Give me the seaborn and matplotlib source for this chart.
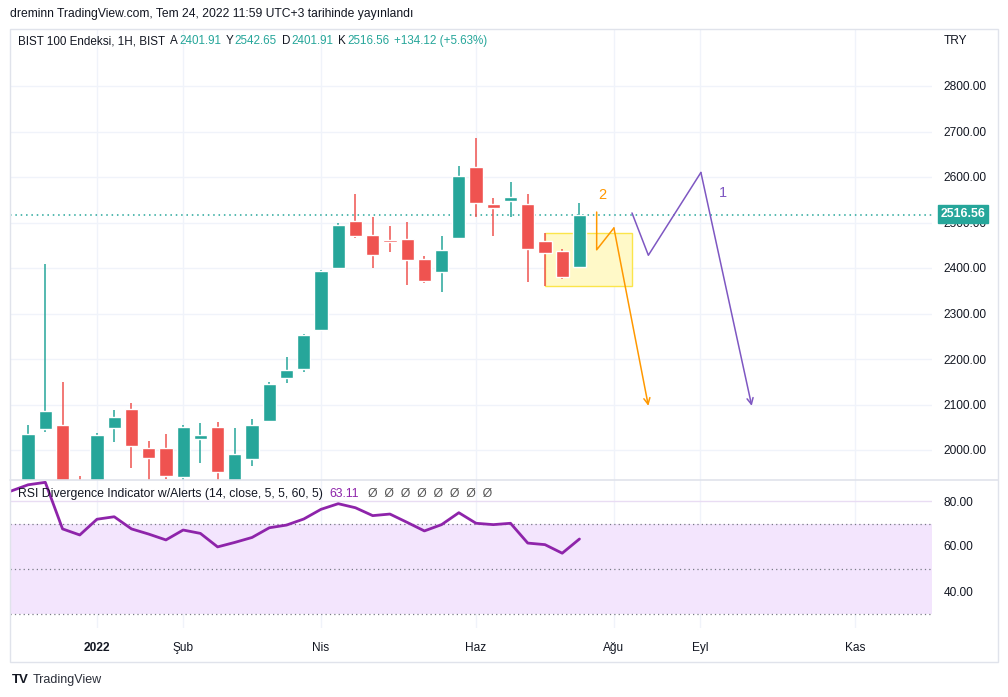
import numpy as np
import pandas as pd
import seaborn as sns
import matplotlib.pyplot as plt
from matplotlib.patches import Rectangle

sns.set_theme(style="white")
plt.rcParams['font.family'] = ['Liberation Sans', 'DejaVu Sans']

# weekly candles, week 0 = first week of 2022
weeks = list(range(-4, 29))
opens = [1890, 2046, 2055, 1925, 1915, 2048, 2090, 2004, 2004, 1941, 2024, 2050, 1920,
         1980, 2064, 2158, 2178, 2264, 2400, 2503, 2473, 2462, 2464, 2420, 2391, 2466,
         2622, 2541, 2547, 2541, 2459, 2437, 2401.91]
highs = [2055, 2409, 2149, 1943, 2037, 2088, 2103, 2020, 2035, 2055, 2059, 2061, 2048,
         2068, 2149, 2204, 2255, 2396, 2499, 2563, 2512, 2492, 2501, 2427, 2470, 2624,
         2686, 2554, 2589, 2563, 2477, 2442, 2542.65]
lows = [1870, 2040, 1890, 1860, 1900, 2018, 1960, 1925, 1936, 1930, 1971, 1930, 1905,
        1965, 2064, 2147, 2171, 2262, 2400, 2466, 2400, 2435, 2363, 2368, 2347, 2466,
        2512, 2470, 2512, 2369, 2360, 2376, 2401.91]
closes = [2035, 2086, 1900, 1880, 2033, 2072, 2009, 1982, 1943, 2050, 2033, 1952, 1991,
          2055, 2145, 2176, 2253, 2393, 2494, 2470, 2429, 2458, 2418, 2371, 2440, 2602,
          2543, 2532, 2556, 2442, 2433, 2380, 2516.56]

rsi_weeks = list(range(-5, 29))
rsi_vals = [84.4, 87.2, 88.3, 67.6, 64.9, 71.9, 73.0, 67.6, 65.3, 62.7, 67.1, 65.6, 59.6,
            61.6, 63.8, 68.1, 69.3, 72.0, 76.3, 78.8, 77.0, 73.5, 74.2, 70.5, 66.7, 69.5,
            74.8, 70.1, 69.5, 70.1, 61.3, 60.6, 56.8, 63.11]

# drawings
box_weeks = [26, 31.05]
box_prices = [2360, 2477]
path2_weeks = [29, 29, 30, 32]
path2_prices = [2523, 2440, 2488, 2097]
path1_weeks = [31.05, 32, 35.05, 38]
path1_prices = [2521, 2428, 2610, 2097]
last_price = 2516.56

month_ticks = [0, 5, 13, 22, 30, 35, 44]
month_labels = ['2022', 'Şub', 'Nis', 'Haz', 'Ağu', 'Eyl', 'Kas']
price_ticks = list(range(2000, 2900, 100))
rsi_ticks = [40, 60, 80]

W, H = 1008, 697
GREEN, RED = '#26a69a', '#ef5350'
TXT = '#131722'
GRID = '#f0f3fa'
FRAME = '#e0e3eb'
ORANGE, PURPLE, RSI_C = '#ff9800', '#7e57c2', '#8e24aa'

df = pd.DataFrame({'week': weeks, 'open': opens, 'high': highs, 'low': lows, 'close': closes})
df['up'] = df['close'] >= df['open']
df['color'] = np.where(df['up'], GREEN, RED)


def px_rect(x0, y0, x1, y1):
    return [x0 / W, 1 - y1 / H, (x1 - x0) / W, (y1 - y0) / H]


fig = plt.figure(figsize=(W / 100, H / 100), dpi=100)
ax = fig.add_axes(px_rect(10, 29, 932, 480))
ax2 = fig.add_axes(px_rect(10, 480, 932, 628), sharex=ax)

x_lo, x_hi = (10 - 97) / 17.23, (932 - 97) / 17.23
ax.set_xlim(x_lo, x_hi)
ax.set_ylim(2000 - 30 / 0.455, 2800 + 57 / 0.455)
ax2.set_ylim(40 - 37 / 2.25, 80 + 21 / 2.25)

for a in (ax, ax2):
    for s in a.spines.values():
        s.set_visible(False)
    a.set_xticks(month_ticks)
    a.grid(True, color=GRID, lw=1, zorder=0)
    a.set_axisbelow(True)
    a.yaxis.tick_right()
    a.tick_params(length=0, labelsize=8.6, labelcolor=TXT, pad=8.5)

ax.set_yticks(price_ticks)
ax.set_yticklabels([f'{v:.2f}' for v in price_ticks])
ax.tick_params(axis='x', labelbottom=False)
ax2.set_yticks(rsi_ticks)
ax2.set_yticklabels([f'{v:.2f}' for v in rsi_ticks])
ax2.set_xticklabels(month_labels)
ax2.tick_params(axis='x', pad=10)
ax2.get_xticklabels()[0].set_fontweight('bold')

# candles
ax.vlines(df['week'], df['low'], df['high'], colors=df['color'], lw=1.1, zorder=3)
body = (df['close'] - df['open']).abs().clip(lower=2.5)
ax.bar(df['week'], body, bottom=df[['open', 'close']].min(axis=1), width=0.77,
       color=df['color'], zorder=4)

ax.axhline(last_price, color=GREEN, ls=(0, (1, 2.5)), lw=1.1, zorder=2)

ax.add_patch(Rectangle((box_weeks[0], box_prices[0]), box_weeks[1] - box_weeks[0],
                       box_prices[1] - box_prices[0], facecolor='#fff9c8',
                       edgecolor='#fbe54a', lw=1, zorder=2))

ax.plot(path2_weeks[:-1], path2_prices[:-1], color=ORANGE, lw=1.1, zorder=5)
ax.annotate('', xy=(path2_weeks[-1], path2_prices[-1]),
            xytext=(path2_weeks[-2], path2_prices[-2]),
            arrowprops=dict(arrowstyle='->', color=ORANGE, lw=1.1, mutation_scale=11,
                            shrinkA=0, shrinkB=0), zorder=5)
ax.plot(path1_weeks[:-1], path1_prices[:-1], color=PURPLE, lw=1.1, zorder=5)
ax.annotate('', xy=(path1_weeks[-1], path1_prices[-1]),
            xytext=(path1_weeks[-2], path1_prices[-2]),
            arrowprops=dict(arrowstyle='->', color=PURPLE, lw=1.1, mutation_scale=11,
                            shrinkA=0, shrinkB=0), zorder=5)
ax.text(29.3, 2561, '2', color=ORANGE, fontsize=10.5, ha='center', va='center')
ax.text(36.3, 2564, '1', color=PURPLE, fontsize=10.5, ha='center', va='center')

# RSI panel
ax2.axhspan(30, 70, color='#f3e5fd', lw=0, zorder=1)
ax2.grid(True, axis='y', color='#e9dcf3', lw=1, zorder=1.5)
for lvl in (70, 50, 30):
    ax2.axhline(lvl, color='#787b86', ls=(0, (1, 2.5)), lw=0.9, zorder=2)
sns.lineplot(x=rsi_weeks, y=rsi_vals, ax=ax2, color=RSI_C, lw=2, zorder=4)
ax2.set_xlim(x_lo, x_hi)

# frames and separators
fig.add_artist(plt.Rectangle((10 / W, 1 - 662 / H), 988 / W, 633 / H, transform=fig.transFigure,
                             fill=False, edgecolor=FRAME, lw=1))
fig.add_artist(plt.Line2D([10 / W, 998 / W], [1 - 480 / H] * 2, transform=fig.transFigure,
                          color=FRAME, lw=1.2))

# price label box
fig.text(963 / W, 1 - 214 / H, f'{last_price:.2f}', color='white', fontsize=8.8,
         fontweight='bold', ha='center', va='center',
         bbox=dict(boxstyle='square,pad=0.25', facecolor=GREEN, edgecolor=GREEN))
fig.text(944 / W, 1 - 41 / H, 'TRY', color=TXT, fontsize=8.6, va='center')

renderer = fig.canvas.get_renderer()


def text_row(x, y, pieces, size):
    for s, c, gap in pieces:
        t = fig.text(x / W, 1 - y / H, s, color=c, fontsize=size, va='center', ha='left')
        x += t.get_window_extent(renderer).width + gap


fig.text(10 / W, 1 - 14 / H, 'dreminn TradingView.com, Tem 24, 2022 11:59 UTC+3 tarihinde yayınlandı',
         color=TXT, fontsize=8.7, va='center')
text_row(18, 41, [('BIST 100 Endeksi, 1H, BIST', TXT, 5), ('A', TXT, 1), ('2401.91', GREEN, 5),
                  ('Y', TXT, 1), ('2542.65', GREEN, 5), ('D', TXT, 1), ('2401.91', GREEN, 5),
                  ('K', TXT, 1), ('2516.56', GREEN, 5), ('+134.12 (+5.63%)', GREEN, 0)], 8.4)
text_row(18, 494, [('RSI Divergence Indicator w/Alerts (14, close, 5, 5, 60, 5)', TXT, 7),
                   ('63.11', RSI_C, 9), ('Ø  Ø  Ø  Ø  Ø  Ø  Ø  Ø', '#555555', 0)], 8.85)

fig.text(12 / W, 1 - 680 / H, 'TV', color=TXT, fontsize=9.5, fontweight='heavy', va='center')
fig.text(33 / W, 1 - 680 / H, 'TradingView', color='#2a2e39', fontsize=9, va='center')

fig.savefig('out.png', dpi=100)
